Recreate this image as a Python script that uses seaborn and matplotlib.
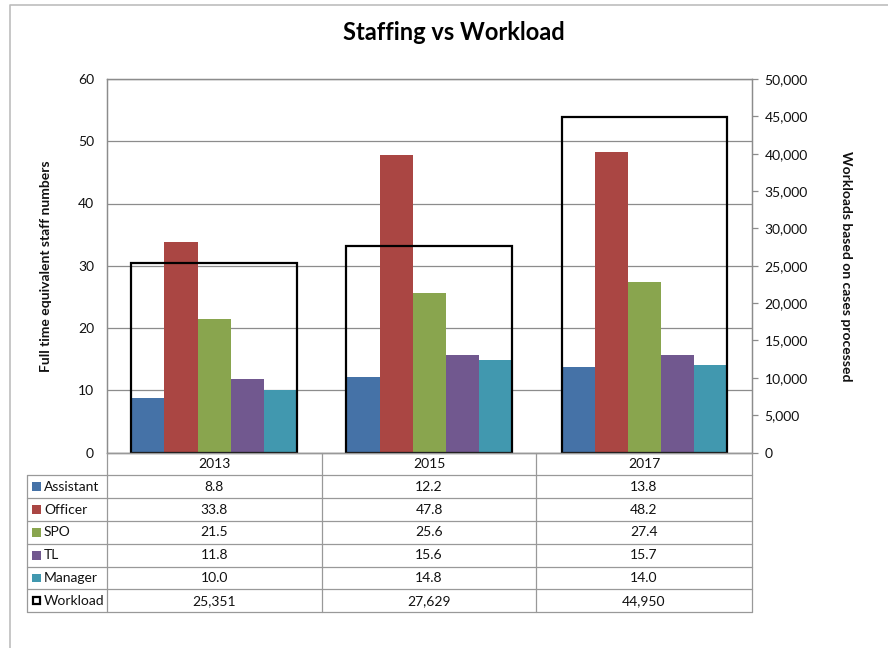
import matplotlib
matplotlib.use('Agg')
import matplotlib.pyplot as plt
import seaborn as sns
import pandas as pd
import numpy as np
from matplotlib.lines import Line2D
from matplotlib.patches import Rectangle
from matplotlib.ticker import FuncFormatter, MultipleLocator

years = ['2013', '2015', '2017']
roles = ['Assistant', 'Officer', 'SPO', 'TL', 'Manager']
assistant = [8.8, 12.2, 13.8]
officer = [33.8, 47.8, 48.2]
spo = [21.5, 25.6, 27.4]
tl = [11.8, 15.6, 15.7]
manager = [10.0, 14.8, 14.0]
workload = [25351, 27629, 44950]
colors = ['#4572A7', '#AA4643', '#89A54E', '#71588F', '#4198AF']

series = [assistant, officer, spo, tl, manager]
rows = []
for role, vals in zip(roles, series):
    for y, v in zip(years, vals):
        rows.append({'Year': y, 'Role': role, 'FTE': v})
staff = pd.DataFrame(rows)
wl = pd.DataFrame({'Year': years, 'Workload': workload})

sns.set_theme(style='white')
plt.rcParams['font.family'] = ['Lato', 'DejaVu Sans']

W, H = 888, 648
fig = plt.figure(figsize=(8.88, 6.48), dpi=100)
def fx(x): return x / W
def fy(y): return 1 - y / H

TXT = '#111111'
ax = fig.add_axes([fx(106.5), fy(452.5), fx(752) - fx(106.5), fy(79) - fy(452.5)])
sns.barplot(data=staff, x='Year', y='FTE', hue='Role', hue_order=roles, order=years,
            palette=colors, width=0.77, saturation=1, linewidth=0, errorbar=None,
            legend=False, ax=ax)
ax.set_ylim(0, 60)
ax.yaxis.set_major_locator(MultipleLocator(10))
ax.set_xlim(-0.5, 2.5)
ax.yaxis.grid(True, color='#8c8c8c', lw=0.9)
ax.set_axisbelow(True)
ax.set_xticklabels([])
ax.tick_params(axis='x', length=0)
ax.tick_params(axis='y', length=0, pad=9, labelsize=10, labelcolor=TXT)
ax.set_xlabel('')
ax.set_ylabel('Full time equivalent staff numbers', fontweight='bold', fontsize=10,
              color=TXT, va='center')
ax.yaxis.set_label_coords((46 - 106.5) / 645.5, 0.5)
for s in ax.spines.values():
    s.set_color('#8c8c8c')
    s.set_linewidth(0.9)

ax2 = ax.twinx()
sns.barplot(data=wl, x='Year', y='Workload', order=years, fill=False, color='black',
            linewidth=1.6, width=0.77, errorbar=None, ax=ax2)
ax2.set_ylim(0, 50000)
ax2.yaxis.set_major_locator(MultipleLocator(5000))
ax2.yaxis.set_major_formatter(FuncFormatter(lambda v, p: f'{int(v):,}'))
ax2.set_xlim(-0.5, 2.5)
ax2.tick_params(axis='y', direction='out', length=4, width=0.9, color='#8c8c8c',
                pad=5, labelsize=10, labelcolor=TXT, right=True)
ax2.set_xlabel('')
ax2.set_ylabel('Workloads based on cases processed', fontweight='bold', fontsize=10,
               rotation=-90, va='center', color=TXT)
ax2.yaxis.set_label_coords((846 - 106.5) / 645.5, 0.5)
for s in ax2.spines.values():
    s.set_color('#8c8c8c')
    s.set_linewidth(0.9)

fig.text(fx(454), fy(33), 'Staffing vs Workload', ha='center', va='center',
         fontsize=17, fontweight='bold', color='black')

# overlay for table and frame
ov = fig.add_axes([0, 0, 1, 1], facecolor='none')
ov.set_xlim(0, W)
ov.set_ylim(H, 0)
ov.axis('off')

# chart frame
ov.add_line(Line2D([10, 10, W], [H, 5, 5], color='#bdbdbd', lw=1.2))

ys = [452.7, 475, 498.3, 521, 544, 566.7, 589.3, 612.3]
xs = [27.3, 106.7, 321.7, 536.3, 751.7]
gc = '#999999'
ov.add_line(Line2D([xs[1], xs[-1]], [ys[0], ys[0]], color=gc, lw=0.9))
for yy in ys[1:]:
    ov.add_line(Line2D([xs[0], xs[-1]], [yy, yy], color=gc, lw=0.9))
ov.add_line(Line2D([xs[0], xs[0]], [ys[1], ys[-1]], color=gc, lw=0.9))
for xx in xs[1:]:
    ov.add_line(Line2D([xx, xx], [ys[0], ys[-1]], color=gc, lw=0.9))

for i, yr in enumerate(years):
    cx = (xs[i + 1] + xs[i + 2]) / 2
    ov.text(cx, (ys[0] + ys[1]) / 2, yr, ha='center', va='center', fontsize=10, color=TXT)

labels = roles + ['Workload']
for r, lab in enumerate(labels):
    y0, y1 = ys[r + 1], ys[r + 2]
    cy = (y0 + y1) / 2
    if r < len(roles):
        ov.add_patch(Rectangle((32, cy - 4.3), 8.7, 8.7, facecolor=colors[r], edgecolor='none'))
        vals = [f'{v:.1f}' for v in series[r]]
    else:
        ov.add_patch(Rectangle((33, cy - 3.7), 7.4, 7.4, facecolor='none', edgecolor='black', lw=1.6))
        vals = [f'{v:,}' for v in workload]
    ov.text(44, cy, lab, ha='left', va='center', fontsize=10, color=TXT)
    for i, v in enumerate(vals):
        cx = (xs[i + 1] + xs[i + 2]) / 2
        ov.text(cx, cy, v, ha='center', va='center', fontsize=10, color=TXT)

fig.savefig('out.png', dpi=100, facecolor='white')
